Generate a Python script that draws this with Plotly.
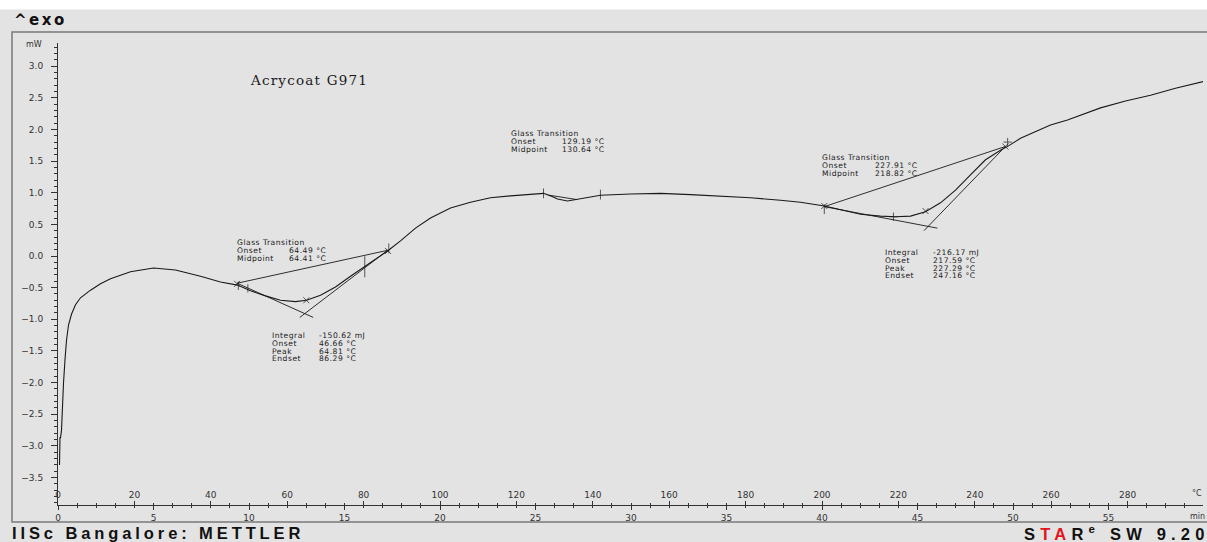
import plotly.graph_objects as go

# ---- DSC heating run: sample temperature (°C) and heat flow (mW) ----
temp_c = [0.39, 0.52, 0.45, 0.65, 0.92, 1.18, 1.44, 1.83, 2.23, 2.75, 3.53, 4.58,
          5.89, 8.51, 11.13, 13.74, 18.98, 25.0, 30.76, 37.30, 42.54, 46.99,
          50.39, 54.32, 58.25, 62.17, 65.05, 68.72, 72.64, 76.57, 80.24, 83.90,
          86.52, 89.66, 93.59, 97.51, 102.75, 107.98, 113.22, 118.46, 123.69,
          127.09, 128.93, 130.76, 133.38, 136.78, 142.02, 149.87, 157.72, 165.58,
          173.43, 181.28, 189.14, 194.37, 200.65, 204.84, 210.08, 215.31, 219.24,
          223.17, 227.09, 231.02, 234.95, 238.87, 242.80, 246.73, 248.82, 251.96,
          255.89, 259.82, 264.27, 268.98, 272.91, 279.45, 286.00, 292.54, 300.13]
heat_mw = [-3.30, -2.86, -3.25, -2.88, -2.75, -2.31, -2.01, -1.64, -1.33, -1.09, -0.92, -0.77,
           -0.66, -0.54, -0.44, -0.36, -0.25, -0.19, -0.22, -0.32, -0.41, -0.46,
           -0.55, -0.63, -0.70, -0.72, -0.70, -0.62, -0.49, -0.32, -0.17, -0.02,
           0.09, 0.24, 0.44, 0.60, 0.76, 0.85, 0.92, 0.95, 0.98,
           0.99, 0.95, 0.90, 0.87, 0.91, 0.96, 0.98, 0.99, 0.97,
           0.95, 0.92, 0.88, 0.85, 0.79, 0.73, 0.66, 0.63, 0.62,
           0.63, 0.70, 0.84, 1.04, 1.28, 1.52, 1.67, 1.74, 1.86,
           1.97, 2.07, 2.15, 2.25, 2.34, 2.45, 2.54, 2.65, 2.76]

# ---- evaluation construction lines (°C, mW) ----
constr_lines = {
    "tg1_step":   ([46.9, 86.3], [-0.43, 0.09]),
    "tg1_before": ([46.9, 66.8], [-0.43, -0.97]),
    "tg1_after":  ([63.3, 86.3], [-0.97, 0.09]),
    "tg2_dip":    ([128.6, 136.0], [0.96, 0.89]),
    "tg3_step":   ([200.6, 248.0], [0.78, 1.73]),
    "tg3_before": ([200.6, 230.2], [0.78, 0.44]),
    "tg3_after":  ([226.7, 248.0], [0.40, 1.73]),
}

# evaluation limit / peak marks on the curve
mark_t = [46.9, 47.2, 49.7, 65.0, 80.3, 86.4, 86.6,
          127.1, 142.0,
          200.6, 200.6, 218.7, 227.1, 248.0, 248.6]
mark_v = [-0.44, -0.47, -0.51, -0.70, -0.17, 0.08, 0.12,
          0.99, 0.97,
          0.79, 0.74, 0.62, 0.71, 1.73, 1.80]
mark_sym = ["x-thin", "line-ns", "line-ns", "x-thin", "line-ns", "x-thin", "line-ns",
            "line-ns", "line-ns",
            "x-thin", "line-ns", "cross-thin", "x-thin", "x-thin", "cross-thin"]
mark_size = [6, 6, 6, 6, 15, 6, 7,
             7, 7,
             6, 7, 6, 6, 6, 6]

# ---- result blocks: (label x, value x, first line y, rows) ----
result_blocks = [
    (46.3, 59.9, 0.21, [("Glass Transition", ""), ("Onset", "64.49 °C"), ("Midpoint", "64.41 °C")]),
    (55.4, 67.7, -1.26, [("Integral", "-150.62 mJ"), ("Onset", "46.66 °C"),
                         ("Peak", "64.81 °C"), ("Endset", "86.29 °C")]),
    (118.0, 131.3, 1.93, [("Glass Transition", ""), ("Onset", "129.19 °C"), ("Midpoint", "130.64 °C")]),
    (199.4, 213.3, 1.55, [("Glass Transition", ""), ("Onset", "227.91 °C"), ("Midpoint", "218.82 °C")]),
    (215.9, 228.5, 0.05, [("Integral", "-216.17 mJ"), ("Onset", "217.59 °C"),
                          ("Peak", "227.29 °C"), ("Endset", "247.16 °C")]),
]
row_step = 0.121

BG = "#e3e3e3"
INK = "#1a1a1a"
FONT = "DejaVu Sans"

# plot-area geometry (pixels) used for frame and header/footer placement
L, R, T, B = 58, 1203, 43, 505
W_PX, H_PX = R - L, B - T


def px_x(px):
    return (px - L) / W_PX


def px_y(py):
    return (B - py) / H_PX


def spaced(text, gap):
    return f"<span style='letter-spacing:{gap}px'>{text}</span>"


fig = go.Figure()

fig.add_trace(go.Scatter(x=temp_c, y=heat_mw, mode="lines",
                         line=dict(color=INK, width=1.1), hoverinfo="skip",
                         showlegend=False))

for name, (lx, ly) in constr_lines.items():
    fig.add_trace(go.Scatter(x=lx, y=ly, mode="lines", name=name,
                             line=dict(color=INK, width=0.9), hoverinfo="skip",
                             showlegend=False))

fig.add_trace(go.Scatter(x=mark_t, y=mark_v, mode="markers", hoverinfo="skip",
                         marker=dict(symbol=mark_sym, size=mark_size, color=INK,
                                     line=dict(color=INK, width=1)),
                         showlegend=False))

# carrier trace for the time axis
fig.add_trace(go.Scatter(x=[None], y=[None], xaxis="x2", showlegend=False,
                         hoverinfo="skip"))

small = dict(family=FONT, size=7.6, color=INK)
annotations = []
for lab_x, val_x, y0, rows in result_blocks:
    for i, (lab, val) in enumerate(rows):
        yy = y0 - i * row_step
        annotations.append(dict(x=lab_x, y=yy, xref="x", yref="y", text=spaced(lab, 0.5),
                                showarrow=False, xanchor="left", yanchor="middle",
                                font=small))
        if val:
            annotations.append(dict(x=val_x, y=yy, xref="x", yref="y", text=spaced(val, 0.5),
                                    showarrow=False, xanchor="left", yanchor="middle",
                                    font=small))

annotations += [
    dict(x=49.8, y=2.78, xref="x", yref="y", text=spaced("Acrycoat G971", 1.2),
         showarrow=False, xanchor="left", yanchor="middle",
         font=dict(family="DejaVu Serif", size=13.5, color=INK)),
    dict(x=px_x(12), y=px_y(20), xref="paper", yref="paper",
         text=spaced("^exo", 2.5), showarrow=False,
         xanchor="left", yanchor="middle",
         font=dict(family="DejaVu Sans", size=15, color="#111", weight="bold")),
    dict(x=px_x(44), y=px_y(45), xref="paper", yref="paper", text="mW",
         showarrow=False, xanchor="right", yanchor="middle",
         font=dict(family=FONT, size=8, color="#333")),
    dict(x=px_x(1197), y=px_y(493), xref="paper", yref="paper", text="°C",
         showarrow=False, xanchor="center", yanchor="middle",
         font=dict(family=FONT, size=8, color="#333")),
    dict(x=px_x(1197), y=px_y(516), xref="paper", yref="paper", text="min",
         showarrow=False, xanchor="center", yanchor="middle",
         font=dict(family=FONT, size=8, color="#333")),
    dict(x=px_x(10), y=px_y(532.5), xref="paper", yref="paper",
         text=spaced("IISc Bangalore: METTLER", 3.9),
         showarrow=False, xanchor="left", yanchor="middle",
         font=dict(family="Liberation Sans", size=16.5, color="#111", weight="bold")),
    dict(x=px_x(1022), y=px_y(532.5), xref="paper", yref="paper",
         text=spaced("S<span style='color:#e3141b'>TA</span>R<sup>e</sup> SW 9.20", 5.2),
         showarrow=False, xanchor="left", yanchor="middle",
         font=dict(family="Liberation Sans", size=16.5, color="#111", weight="bold")),
]

shapes = [
    # white strip along the top edge
    dict(type="rect", xref="paper", yref="paper", x0=px_x(-5), x1=px_x(1215),
         y0=px_y(9.5), y1=px_y(-5), fillcolor="white", line=dict(width=0), layer="below"),
    # outer chart frame
    dict(type="rect", xref="paper", yref="paper", x0=px_x(12), x1=px_x(1212),
         y0=px_y(522), y1=px_y(32), line=dict(color="#7a7a7a", width=1.5),
         fillcolor="rgba(0,0,0,0)"),
]

fig.update_layout(
    width=1207, height=542,
    margin=dict(l=L, r=1207 - R, t=T, b=542 - B),
    paper_bgcolor=BG, plot_bgcolor=BG,
    showlegend=False,
    annotations=annotations,
    shapes=shapes,
    xaxis=dict(
        range=[0, W_PX / 3.82], anchor="y", showgrid=False, zeroline=False,
        showline=True, linecolor="#333", linewidth=1,
        tick0=0, dtick=20, ticks="inside", ticklen=4, tickcolor="#333",
        ticklabelposition="inside", ticklabeloverflow="allow",
        tickfont=dict(family=FONT, size=9, color="#333"),
        minor=dict(dtick=5, ticks="inside", ticklen=2, tickcolor="#333"),
    ),
    xaxis2=dict(
        range=[0, W_PX / 3.82 / 5], overlaying="x", anchor="y", side="bottom",
        showgrid=False, zeroline=False, showline=True, linecolor="#333",
        tick0=0, dtick=5, ticks="outside", ticklen=4, tickcolor="#333",
        tickfont=dict(family=FONT, size=9, color="#333"),
        minor=dict(dtick=1, ticks="outside", ticklen=2, tickcolor="#333"),
    ),
    yaxis=dict(
        range=[(256 - B) / 63.3, (256 - T) / 63.3], showgrid=False, zeroline=False,
        showline=True, linecolor="#333", linewidth=1,
        tick0=0, dtick=0.5, tickformat=".1f", ticks="outside", ticklen=6,
        tickcolor="#333", ticklabelstandoff=6,
        tickfont=dict(family=FONT, size=9, color="#333"),
        minor=dict(dtick=0.1, ticks="outside", ticklen=3, tickcolor="#333"),
    ),
)

fig.write_html("out.html")
